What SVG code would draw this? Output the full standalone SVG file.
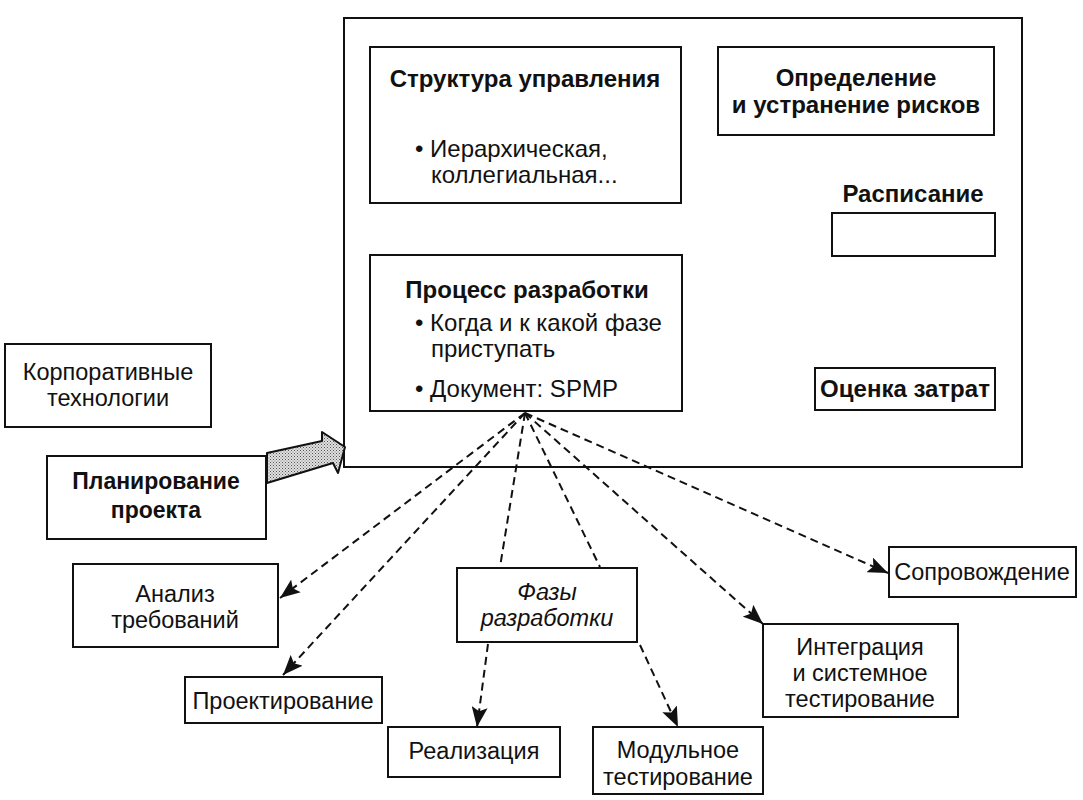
<svg xmlns="http://www.w3.org/2000/svg" width="1083" height="800" viewBox="0 0 1083 800">
<defs>
<style>
.box{fill:#fff;stroke:#111;stroke-width:2}
.t{font-family:"Liberation Sans",Arial,sans-serif;font-size:23.5px;fill:#111;dominant-baseline:central;text-anchor:middle}
.tb{font-family:"Liberation Sans",Arial,sans-serif;font-weight:bold;font-size:23px;fill:#111;dominant-baseline:central;text-anchor:middle}
.mb{font-family:"Liberation Sans",Arial,sans-serif;font-weight:bold;font-size:24px;fill:#111;dominant-baseline:central;text-anchor:middle}
.tl{font-family:"Liberation Sans",Arial,sans-serif;font-size:24px;fill:#111;dominant-baseline:central;text-anchor:start}
.i{font-style:italic}
.dash{fill:none;stroke:#111;stroke-width:2;stroke-dasharray:8 5}
</style>
<marker id="ah" viewBox="0 0 20 16" refX="20" refY="8" markerWidth="20" markerHeight="16" markerUnits="userSpaceOnUse" orient="auto">
<path d="M0,0 L20,8 L0,16 L4,8 Z" fill="#111"/>
</marker>
<pattern id="stip" width="3" height="3" patternUnits="userSpaceOnUse">
<rect width="3" height="3" fill="#e0e0e0"/>
<rect x="0" y="0" width="1" height="1" fill="#555"/>
<rect x="1.5" y="1.5" width="1" height="1" fill="#777"/>
</pattern>
</defs>
<rect width="1083" height="800" fill="#fff"/>

<g id="main">
<rect class="box" x="344" y="18" width="678" height="449"/>
</g>

<g id="struktura">
<rect class="box" x="370" y="47" width="311" height="156"/>
<text class="mb" x="525" y="78">Структура управления</text>
<text class="tl" x="415" y="148">• Иерархическая,</text>
<text class="tl" x="431" y="174">коллегиальная...</text>
</g>

<g id="riski">
<rect class="box" x="718" y="47" width="276" height="88"/>
<text class="mb" x="856" y="77">Определение</text>
<text class="mb" x="856" y="104">и устранение рисков</text>
</g>

<g id="raspisanie">
<text class="mb" x="913" y="193">Расписание</text>
<rect class="box" x="832" y="213" width="163" height="43"/>
</g>

<g id="process">
<rect class="box" x="370" y="255" width="312" height="156"/>
<text class="mb" x="527" y="289">Процесс разработки</text>
<text class="tl" x="415" y="322">• Когда и к какой фазе</text>
<text class="tl" x="431" y="348">приступать</text>
<text class="tl" x="415" y="388">• Документ: SPMP</text>
</g>

<g id="ocenka">
<rect class="box" x="815" y="368" width="180" height="42"/>
<text class="mb" x="905" y="388">Оценка затрат</text>
</g>

<g id="korp">
<rect class="box" x="5" y="344" width="206" height="83"/>
<text class="t" x="108" y="372">Корпоративные</text>
<text class="t" x="108" y="398">технологии</text>
</g>

<g id="bigarrow">
<polygon points="267,453 322,441 322,432 345,447 338,473 333,463 267,483" fill="url(#stip)" stroke="#111" stroke-width="2" stroke-linejoin="round"/>
</g>

<g id="planirovanie">
<rect class="box" x="47" y="456" width="219" height="83"/>
<text class="tb" x="156" y="481">Планирование</text>
<text class="tb" x="156" y="510">проекта</text>
</g>

<g id="analiz">
<rect class="box" x="73" y="564" width="205" height="83"/>
<text class="t" x="175" y="594">Анализ</text>
<text class="t" x="175" y="620">требований</text>
</g>

<g id="proektirovanie">
<rect class="box" x="185" y="677" width="197" height="46"/>
<text class="t" x="283" y="701">Проектирование</text>
</g>

<g id="fazy">
<rect class="box" x="457" y="568" width="180" height="74"/>
<text class="t i" x="547" y="592">Фазы</text>
<text class="t i" x="547" y="618">разработки</text>
</g>

<g id="realizaciya">
<rect class="box" x="388" y="727" width="172" height="50"/>
<text class="t" x="474" y="751">Реализация</text>
</g>

<g id="modulnoe">
<rect class="box" x="593" y="727" width="170" height="67"/>
<text class="t" x="678" y="750">Модульное</text>
<text class="t" x="678" y="777">тестирование</text>
</g>

<g id="integraciya">
<rect class="box" x="763" y="624" width="195" height="93"/>
<text class="t" x="860" y="647">Интеграция</text>
<text class="t" x="860" y="673">и системное</text>
<text class="t" x="860" y="699">тестирование</text>
</g>

<g id="soprovozhdenie">
<rect class="box" x="889" y="547" width="187" height="50"/>
<text class="t" x="982" y="572">Сопровождение</text>
</g>

<g id="connectors">
<line class="dash" x1="525" y1="413" x2="280" y2="598" marker-end="url(#ah)"/>
<line class="dash" x1="525" y1="413" x2="283" y2="675" marker-end="url(#ah)"/>
<line class="dash" x1="525" y1="413" x2="500" y2="567"/>
<line class="dash" x1="525" y1="413" x2="600" y2="567"/>
<line class="dash" x1="525" y1="413" x2="763" y2="624" marker-end="url(#ah)"/>
<line class="dash" x1="525" y1="413" x2="888" y2="573" marker-end="url(#ah)"/>
<line class="dash" x1="488" y1="644" x2="477" y2="727" marker-end="url(#ah)"/>
<line class="dash" x1="640" y1="645" x2="678" y2="727" marker-end="url(#ah)"/>
</g>
</svg>
